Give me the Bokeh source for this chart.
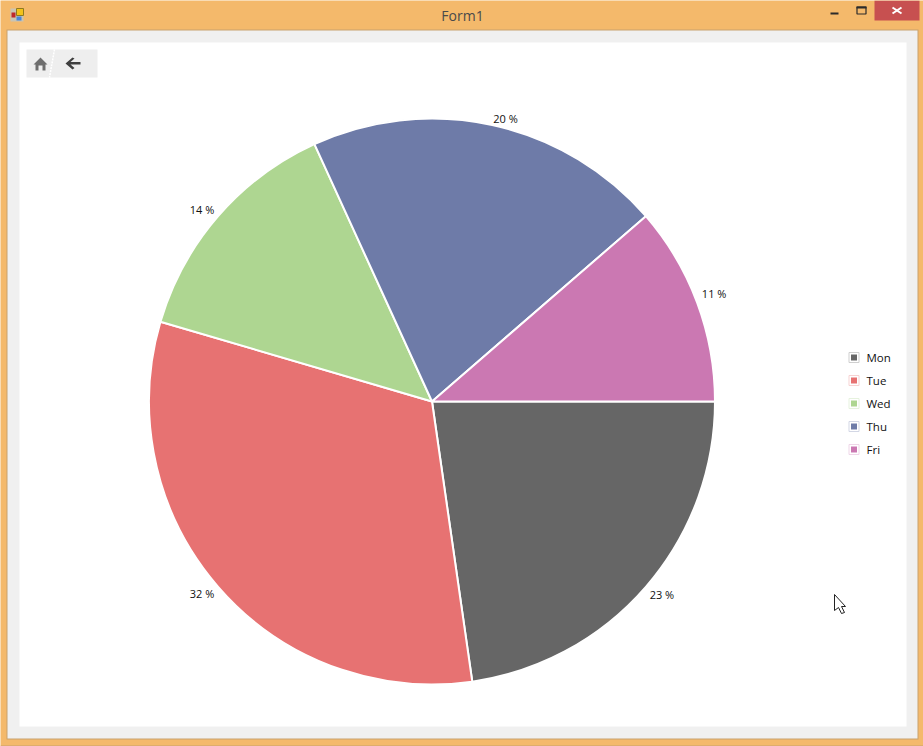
import math
from bokeh.plotting import figure
from bokeh.models import Range1d
from bokeh.core.properties import value
from bokeh.embed import file_html
from bokeh.resources import INLINE

# ---- data ----
days = ["Mon", "Tue", "Wed", "Thu", "Fri"]
amounts = [20, 28, 12, 18, 10]
pct_labels = ["23 %", "32 %", "14 %", "20 %", "11 %"]
colors = ["#666666", "#E77272", "#AED691", "#6E7BA8", "#CB78B2"]
swatch_borders = ["#CFCFCF", "#F7D3D3", "#E6F2DE", "#D3D7E5", "#EFD6E8"]
window_title = "Form1"

W, H = 923, 746
FONT = value("Open Sans")


def Y(v):
    return H - v


p = figure(width=W, height=H, output_backend="svg", toolbar_location=None,
           x_range=Range1d(0, W), y_range=Range1d(0, H),
           x_axis_type=None, y_axis_type=None, min_border=0,
           outline_line_color=None, background_fill_color="#F4B96B",
           border_fill_color="#F4B96B")
p.grid.visible = False
p.styles = {"position": "absolute", "left": "0px", "top": "0px"}


def box(x0, y0, x1, y1, fill, line=None, width=1):
    p.quad(left=[x0], right=[x1], top=[Y(y0)], bottom=[Y(y1)], fill_color=fill,
           line_color=line, line_width=width)


# ---- window chrome ----
box(6, 29, 918, 739, "#C8A26E")
box(7, 30, 917, 738, "#F0F0F0")
box(19, 42, 906, 726, "#FFFFFF")
box(0, 745, 923, 746, "#C8A26E")
box(874, 0, 919, 20, "#C75050")
p.segment([892, 892], [Y(7), Y(13)], [901, 901], [Y(13), Y(7)], line_color="white", line_width=2)
box(830, 12, 838, 14, "#2B2B2B")
box(856.5, 6.5, 865.5, 13.5, None, "#2B2B2B", 1.2)
box(856, 6, 866, 8, "#2B2B2B")
p.text([462], [Y(15)], text=[window_title], text_font=FONT, text_font_size="14px",
       text_color="#4A4A4A", text_align="center", text_baseline="middle")
box(10, 8, 23, 21, "#C9C4B4")
box(16, 8, 23, 15, "#F2C21A", "#8F7A20")
box(11, 12, 15, 17, "#C0282A")
box(16, 16, 21, 20, "#4A86D8")

# ---- toolbar ----
box(26, 49, 97, 77, "#EEEEEE")
p.line([54, 49], [Y(49), Y(77)], line_color="white", line_width=1.5, line_dash="2 1")
p.patch([40, 47, 45, 45, 42, 42, 38, 38, 35, 35, 33],
        [Y(57), Y(64), Y(64), Y(70), Y(70), Y(65), Y(65), Y(70), Y(70), Y(64), Y(64)],
        fill_color="#6E6E6E", line_color=None)
p.patch([72, 74, 70, 80, 80, 70, 74, 72, 65],
        [Y(57), Y(58), Y(61.5), Y(61.5), Y(64), Y(64), Y(67.5), Y(69), Y(63)],
        fill_color="#3F3F3F", line_color=None)

# ---- pie ----
cx, cy, radius = 431.5, Y(401), 283
total = sum(amounts)
starts, ends, acc = [], [], 0
for a in amounts:
    starts.append(acc / total * 2 * math.pi)
    acc += a
    ends.append(acc / total * 2 * math.pi)

p.wedge(x=[cx] * 5, y=[cy] * 5, radius=radius,
        start_angle=[-e for e in ends], end_angle=[-s for s in starts],
        direction="anticlock", fill_color=colors, line_color="white", line_width=2)

# ---- percent labels, placed around the pie ----
lab_nudge_y = [-1, -2, 2, 6, -5]
for i, t in enumerate(pct_labels):
    mid = (starts[i] + ends[i]) / 2
    c, s = math.cos(mid), math.sin(mid)
    p.text([cx + 288 * c], [cy - 296 * s + (-lab_nudge_y[i])], text=[t], text_font=FONT,
           text_font_size="11px", text_color="#111111",
           text_align="left" if c > 0 else "right", text_baseline="middle")

# ---- legend ----
for i, d in enumerate(days):
    ly = 357 + 23 * i
    box(848.5, ly - 5, 858.5, ly + 5, "#FFFFFF", swatch_borders[i], 1)
    box(850.5, ly - 3, 856.5, ly + 3, colors[i])
    p.text([866], [Y(ly)], text=[d], text_font=FONT, text_font_size="11.5px",
           text_color="#111111", text_align="left", text_baseline="middle")

# ---- mouse cursor ----
p.patch([834, 845, 841, 844, 841, 838, 834],
        [Y(594), Y(606), Y(606), Y(612), Y(613), Y(607), Y(610)],
        fill_color="white", line_color="#222222", line_width=1)

open("out.html", "w").write(file_html(p, INLINE))
